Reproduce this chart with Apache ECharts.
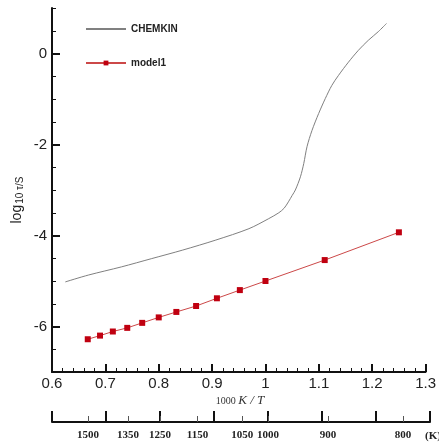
<!DOCTYPE html>
<html>
<head>
<meta charset="utf-8">
<script src="https://cdn.jsdelivr.net/npm/echarts@6/dist/echarts.min.js"></script>
<style>html,body{margin:0;padding:0;background:#fff;}#c{width:439px;height:444px;}</style>
</head>
<body>
<div id="c"></div>
<script>
// CHEMKIN curve (x = 1000/T, y = log10 tau)
const chemkinX = [0.625,0.668,0.730,0.786,0.845,0.907,0.969,1.006,1.025,1.035,1.043,1.050,1.056,1.0655,1.0717,1.0778,1.0872,1.0996,1.1121,1.1244,1.1369,1.1555,1.1741,1.1927,1.2114,1.2268];
const chemkinY = [-5.02,-4.87,-4.69,-4.51,-4.32,-4.10,-3.85,-3.63,-3.50,-3.40,-3.26,-3.12,-3.00,-2.71,-2.42,-2.05,-1.69,-1.32,-0.99,-0.70,-0.48,-0.19,0.07,0.29,0.48,0.66];
// model1 points
const model1X = [0.667,0.690,0.714,0.741,0.769,0.800,0.833,0.870,0.909,0.952,1.000,1.111,1.250];
const model1Y = [-6.28,-6.20,-6.11,-6.03,-5.92,-5.80,-5.68,-5.55,-5.38,-5.20,-5.00,-4.54,-3.93];
// tick labels
const yTicks = [0,-2,-4,-6];
const yMinorTicks = [1,0.5,-0.5,-1,-1.5,-2.5,-3,-3.5,-4.5,-5,-5.5,-6.5];
const tempTicks = [1500,1350,1250,1150,1050,1000,900,800];

const tempPos = tempTicks.map(t => 1000 / t);
const chart = echarts.init(document.getElementById('c'));
const axisColor = '#111';
const lblFont = 'Liberation Sans, Arial, sans-serif';
const serif = 'Liberation Serif, Times New Roman, serif';

chart.setOption({
  animation: false,
  backgroundColor: '#fff',
  grid: [
    {left: 52, right: 12, top: 8, bottom: 72},
    {left: 52, right: 9, top: 412, height: 10}
  ],
  legend: {
    orient: 'vertical', left: 80, top: 19,
    itemWidth: 40, itemHeight: 6, itemGap: 24,
    textStyle: {fontFamily: lblFont, fontWeight: 'bold', fontSize: 10, color: '#222'},
    data: [{name: 'CHEMKIN', itemStyle: {opacity: 0}}, {name: 'model1'}]
  },
  xAxis: [
    {gridIndex: 0, type: 'value', min: 0.6, max: 1.3, interval: 0.1,
     axisLine: {onZero: false, lineStyle: {color: axisColor, width: 2}},
     axisTick: {inside: true, length: 8, lineStyle: {color: axisColor, width: 2}},
     minorTick: {show: true, splitNumber: 5, length: 4, lineStyle: {color: axisColor, width: 1}},
     axisLabel: {margin: 4, fontFamily: lblFont, fontSize: 15, color: '#222'},
     splitLine: {show: false}},
    {gridIndex: 1, type: 'value', min: 0.6, max: 1.3, interval: 0.1, position: 'bottom',
     axisLine: {onZero: false, lineStyle: {color: axisColor, width: 2}},
     axisTick: {inside: true, length: 11, lineStyle: {color: axisColor, width: 2}},
     axisLabel: {show: false},
     splitLine: {show: false}},
    {gridIndex: 1, type: 'value', min: 0.6, max: 1.3, position: 'bottom',
     axisLine: {show: false, onZero: false},
     axisTick: {inside: true, length: 6, customValues: tempPos, lineStyle: {color: '#555', width: 1}},
     axisLabel: {customValues: tempPos, margin: 8, fontFamily: serif, fontWeight: 'bold', fontSize: 11, color: '#222',
       formatter: v => String(Math.round(1000 / v))},
     splitLine: {show: false}}
  ],
  yAxis: [
    {gridIndex: 0, type: 'value', min: -7, max: 1,
     axisLine: {show: true, onZero: false, lineStyle: {color: axisColor, width: 2}},
     axisTick: {show: true, inside: true, length: 8, customValues: yTicks, lineStyle: {color: axisColor, width: 2}},
     axisLabel: {customValues: yTicks, margin: 5, fontFamily: lblFont, fontSize: 15, color: '#222'},
     splitLine: {show: false}},
    {gridIndex: 0, type: 'value', min: -7, max: 1, position: 'left',
     axisLine: {show: false, onZero: false},
     axisTick: {show: true, inside: true, length: 4, customValues: yMinorTicks, lineStyle: {color: axisColor, width: 1}},
     axisLabel: {show: false},
     splitLine: {show: false}},
    {gridIndex: 1, type: 'value', min: 0, max: 1, show: false}
  ],
  graphic: [
    {type: 'text', x: 17, y: 200, rotation: Math.PI / 2,
     style: {text: '{a|log}{b|10 τ/S}', align: 'center', verticalAlign: 'middle',
       rich: {a: {fontFamily: lblFont, fontSize: 14, fill: '#222'},
              b: {fontFamily: lblFont, fontSize: 10, fill: '#222', padding: [6, 0, 0, 1]}}}},
    {type: 'text', x: 240, y: 401,
     style: {text: '{n|1000 }{k|K / T}', align: 'center', verticalAlign: 'middle',
       rich: {n: {fontFamily: serif, fontSize: 10, fill: '#333'},
              k: {fontFamily: serif, fontStyle: 'italic', fontSize: 13, fill: '#333'}}}},
    {type: 'text', x: 425, y: 436,
     style: {text: '(K)', align: 'left', verticalAlign: 'middle', fontFamily: serif, fontWeight: 'bold', fontSize: 11, fill: '#222'}}
  ],
  series: [
    {name: 'CHEMKIN', type: 'line', xAxisIndex: 0, yAxisIndex: 0, smooth: 0.3,
     symbol: 'none', color: '#808080', lineStyle: {color: '#808080', width: 1},
     data: chemkinX.map((x, i) => [x, chemkinY[i]])},
    {name: 'model1', type: 'line', xAxisIndex: 0, yAxisIndex: 0,
     symbol: 'rect', symbolSize: 6, color: '#c00010',
     itemStyle: {color: '#c00010'}, lineStyle: {color: '#cc4848', width: 1},
     data: model1X.map((x, i) => [x, model1Y[i]])}
  ]
});
</script>
</body>
</html>
